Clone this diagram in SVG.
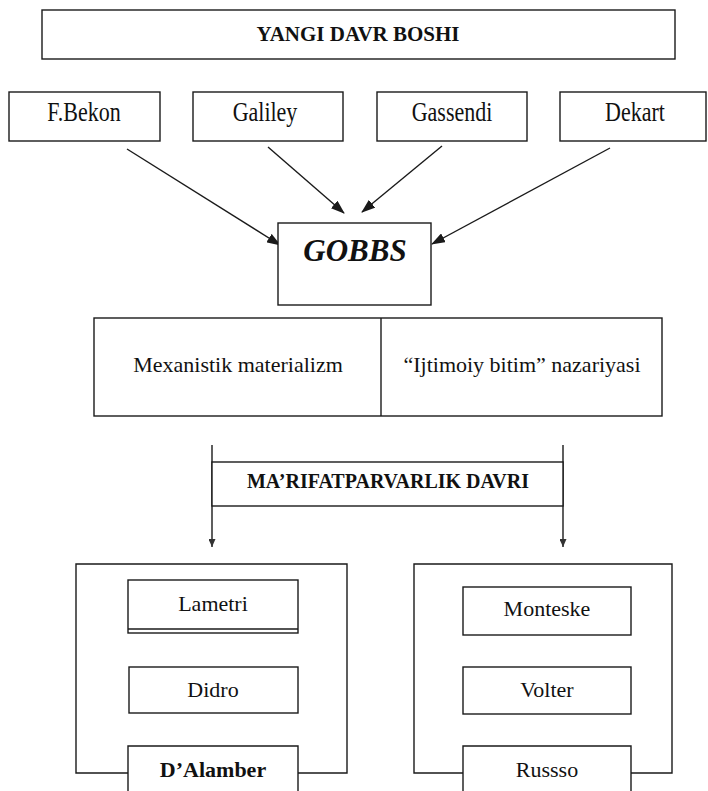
<svg xmlns="http://www.w3.org/2000/svg" width="708" height="791" viewBox="0 0 708 791">
<style>
  .box{fill:#fff;stroke:#1a1a1a;stroke-width:1.4}
  .ln{fill:none;stroke:#1a1a1a;stroke-width:1.4}
  .t{font-family:"Liberation Serif","Times New Roman",serif;font-size:22px;fill:#111;text-anchor:middle}
  .b{font-weight:bold}
  .h{font-family:"Liberation Serif","Times New Roman",serif;font-weight:bold;fill:#111;text-anchor:middle}
</style>
<defs>
  <marker id="ah" markerUnits="userSpaceOnUse" markerWidth="14" markerHeight="10" refX="13" refY="5" orient="auto">
    <path d="M0,0 L14,5 L0,10 Z" fill="#1a1a1a"/>
  </marker>
  <marker id="ahs" markerUnits="userSpaceOnUse" markerWidth="8" markerHeight="7" refX="8" refY="3.5" orient="auto">
    <path d="M0,0 L8,3.5 L0,7 Z" fill="#333"/>
  </marker>
</defs>
<rect width="708" height="791" fill="#fff"/>

<g id="connectors">
  <line class="ln" x1="127" y1="149" x2="280" y2="245" marker-end="url(#ah)"/>
  <line class="ln" x1="268" y1="147" x2="344" y2="213" marker-end="url(#ah)"/>
  <line class="ln" x1="442" y1="146" x2="362" y2="212" marker-end="url(#ah)"/>
  <line class="ln" x1="610" y1="148" x2="432" y2="244" marker-end="url(#ah)"/>
  <line class="ln" x1="212" y1="445" x2="212" y2="547" marker-end="url(#ahs)"/>
  <line class="ln" x1="563" y1="445" x2="563" y2="547" marker-end="url(#ahs)"/>
</g>

<g id="yangi-davr">
  <rect class="box" x="42" y="10" width="633" height="49"/>
  <text class="h" x="358" y="41" font-size="21">YANGI DAVR BOSHI</text>
</g>

<g id="fbekon">
  <rect class="box" x="9" y="92" width="151" height="49"/>
  <text class="t" transform="translate(84,121) scale(1,1.22)">F.Bekon</text>
</g>
<g id="galiley">
  <rect class="box" x="193" y="92" width="150" height="49"/>
  <text class="t" transform="translate(265,121) scale(1,1.22)">Galiley</text>
</g>
<g id="gassendi">
  <rect class="box" x="377" y="92" width="150" height="49"/>
  <text class="t" transform="translate(452,121) scale(1,1.22)">Gassendi</text>
</g>
<g id="dekart">
  <rect class="box" x="560" y="92" width="146" height="49"/>
  <text class="t" transform="translate(635,121) scale(1,1.22)">Dekart</text>
</g>

<g id="gobbs">
  <rect class="box" x="278" y="223" width="153" height="82"/>
  <text class="h" x="355" y="261" font-size="31" font-style="italic">GOBBS</text>
</g>

<g id="ideas">
  <rect class="box" x="94" y="318" width="568" height="98"/>
  <line class="ln" x1="381" y1="318" x2="381" y2="416"/>
  <text class="t" x="238" y="372">Mexanistik materializm</text>
  <text class="t" x="522" y="372">“Ijtimoiy bitim” nazariyasi</text>
</g>

<g id="marifat">
  <rect class="box" x="212" y="462" width="351" height="44"/>
  <text class="h" x="388" y="488" font-size="20">MA’RIFATPARVARLIK DAVRI</text>
</g>

<g id="left-group">
  <path class="ln" d="M128,773 L76,773 L76,564 L347,564 L347,773 L298,773"/>
</g>
<g id="lametri">
  <rect class="box" x="128" y="580" width="170" height="53"/>
  <line class="ln" x1="128" y1="629" x2="298" y2="629"/>
  <text class="t" x="213" y="611">Lametri</text>
</g>
<g id="didro">
  <rect class="box" x="129" y="667" width="169" height="46"/>
  <text class="t" x="213" y="697">Didro</text>
</g>
<g id="dalamber">
  <path class="box" d="M128,795 L128,746 L298,746 L298,795"/>
  <text class="t b" x="213" y="777">D’Alamber</text>
</g>

<g id="right-group">
  <path class="ln" d="M463,773 L414,773 L414,564 L672,564 L672,773 L631,773"/>
</g>
<g id="monteske">
  <rect class="box" x="463" y="587" width="168" height="48"/>
  <text class="t" x="547" y="616">Monteske</text>
</g>
<g id="volter">
  <rect class="box" x="463" y="667" width="168" height="47"/>
  <text class="t" x="547" y="697">Volter</text>
</g>
<g id="russso">
  <path class="box" d="M463,795 L463,746 L631,746 L631,795"/>
  <text class="t" x="547" y="777">Russso</text>
</g>
</svg>
